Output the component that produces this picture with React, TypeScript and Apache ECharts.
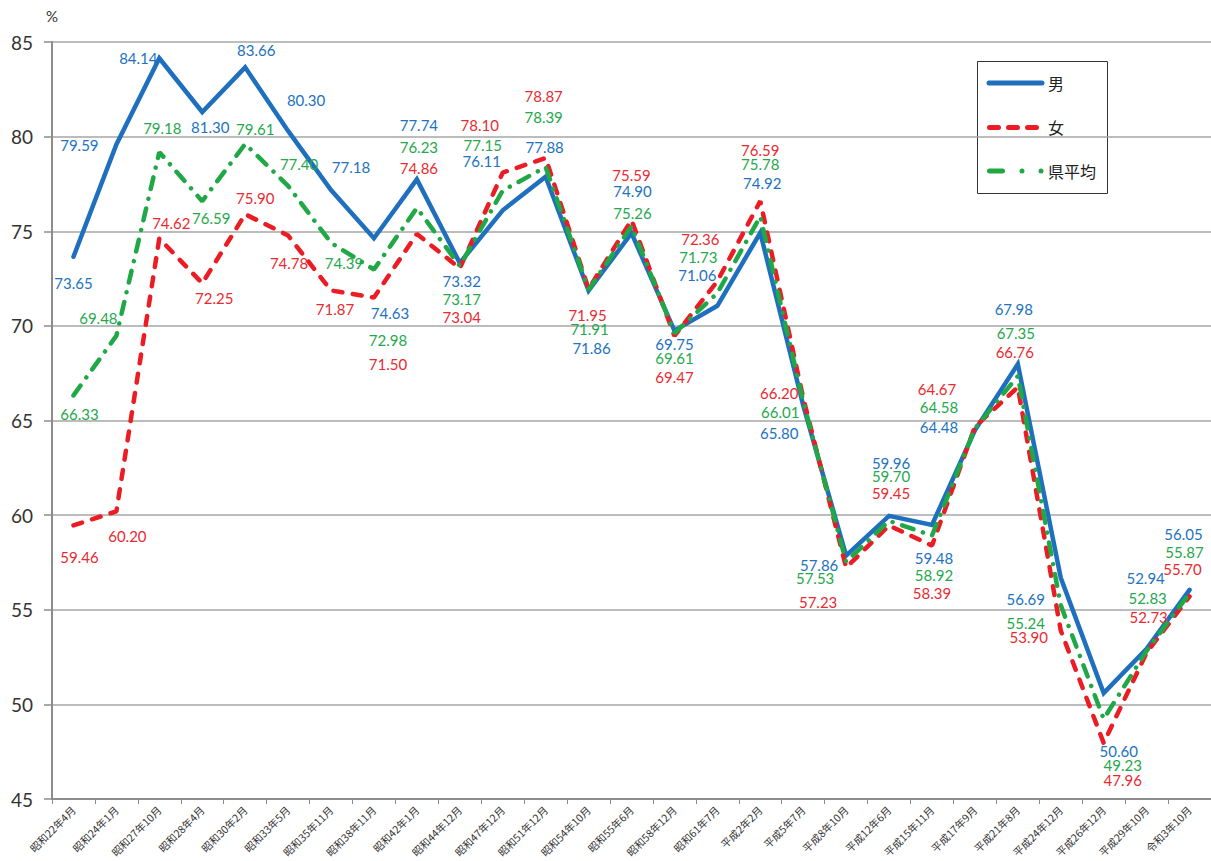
import React, { useEffect, useRef } from "react";
import * as echarts from "echarts";

const categories = [
  "昭和22年4月", "昭和24年1月", "昭和27年10月", "昭和28年4月", "昭和30年2月", "昭和33年5月",
  "昭和35年11月", "昭和38年11月", "昭和42年1月", "昭和44年12月", "昭和47年12月", "昭和51年12月",
  "昭和54年10月", "昭和55年6月", "昭和58年12月", "昭和61年7月", "平成2年2月", "平成5年7月",
  "平成8年10月", "平成12年6月", "平成15年11月", "平成17年9月", "平成21年8月", "平成24年12月",
  "平成26年12月", "平成29年10月", "令和3年10月",
];

const maleValues = [
  73.65, 79.59, 84.14, 81.3, 83.66, 80.3, 77.18, 74.63, 77.74, 73.32, 76.11, 77.88, 71.86, 74.9,
  69.75, 71.06, 74.92, 65.8, 57.86, 59.96, 59.48, 64.48, 67.98, 56.69, 50.6, 52.94, 56.05,
];
const femaleValues = [
  59.46, 60.2, 74.62, 72.25, 75.9, 74.78, 71.87, 71.5, 74.86, 73.04, 78.1, 78.87, 71.95, 75.59,
  69.47, 72.36, 76.59, 66.2, 57.23, 59.45, 58.39, 64.67, 66.76, 53.9, 47.96, 52.73, 55.7,
];
const averageValues = [
  66.33, 69.48, 79.18, 76.59, 79.61, 77.4, 74.39, 72.98, 76.23, 73.17, 77.15, 78.39, 71.91, 75.26,
  69.61, 71.73, 75.78, 66.01, 57.53, 59.7, 58.92, 64.58, 67.35, 55.24, 49.23, 52.83, 55.87,
];

const seriesNames = ["男", "女", "県平均"];
const yTicks = { min: 45, max: 85, interval: 5 };

// label offsets (pixels, from point) — layout only
const maleOffsets = [
  [0, 26], [-37, 1], [-21, 0], [8, 15], [11, -17], [18, -31], [20, -23], [16, 75], [2, -54],
  [2, 18], [-21, -49], [-1, -30], [3, 57], [1, -42], [0, 13], [-20, -31], [2, -50], [-24, 28],
  [-27, 9], [2, -53], [2, 33], [-36, -3], [-4, -55], [-35, 21], [15, 58], [-1, -71], [-6, -56],
];
const femaleOffsets = [
  [6, 32], [11, 25], [12, -15], [12, 15], [10, -16], [1, 28], [4, 19], [14, 67], [2, -66],
  [2, 49], [-23, -48], [-2, -62], [-1, 26], [0, -45], [0, 41], [-17, -42], [0, -51], [-24, -5],
  [-28, 34], [2, -33], [0, 47], [-38, -38], [-3, -35], [-32, 6], [19, 37], [2, -36], [-7, -28],
];
const averageOffsets = [
  [6, 19], [-18, -18], [3, -24], [9, 17], [10, -15], [11, -22], [13, 20], [14, 71], [2, -61],
  [2, 33], [-20, -46], [-2, -50], [1, 39], [1, -13], [0, 25], [-19, -36], [0, -52], [-23, 11],
  [-31, 16], [2, -45], [2, 39], [-36, -21], [-2, -43], [-35, 18], [19, 46], [1, -53], [-5, -41],
];

const BLUE = "#1f6fbf";
const RED = "#ec1c24";
const GREEN = "#21a846";
const LABEL_BLUE = "#2272bf";
const LABEL_RED = "#ea2a30";
const LABEL_GREEN = "#25a84b";

function buildData(values: number[], offsets: number[][]) {
  return values.map((v, i) => ({ value: v, label: { offset: offsets[i] } }));
}

export default function App() {
  const ref = useRef<HTMLDivElement>(null);

  useEffect(() => {
    if (!ref.current) return;
    const chart = echarts.init(ref.current, null, { renderer: "svg" });

    const labelBase = (color: string) => ({
      show: true,
      position: "inside",
      color,
      fontSize: 15,
      fontFamily: "Lato, 'Open Sans', sans-serif",
      formatter: (p: any) => Number(p.value).toFixed(2),
    });

    const mkSeries = (
      name: string,
      values: number[],
      offsets: number[][],
      color: string,
      labelColor: string,
      lineStyle: any,
      z: number
    ) => ({
      name,
      type: "line",
      data: buildData(values, offsets),
      symbol: "circle",
      symbolSize: 0,
      showSymbol: true,
      itemStyle: { color },
      lineStyle: { color, width: 4.5, ...lineStyle },
      label: labelBase(labelColor),
      emphasis: { disabled: true },
      z,
    });

    chart.setOption({
      animation: false,
      backgroundColor: "#ffffff",
      grid: { left: 52, right: -5, top: 42, bottom: 62 },
      xAxis: {
        type: "category",
        data: categories,
        boundaryGap: true,
        axisLine: { show: true, lineStyle: { color: "#8c8c8c", width: 2 } },
        axisTick: { show: true, length: 5, lineStyle: { color: "#8c8c8c", width: 1 } },
        axisLabel: {
          rotate: 45,
          interval: 0,
          margin: 9,
          fontSize: 10.5,
          color: "#333",
          fontFamily: "'Noto Sans CJK JP', sans-serif",
        },
        splitLine: { show: false },
      },
      yAxis: {
        type: "value",
        min: yTicks.min,
        max: yTicks.max,
        interval: yTicks.interval,
        name: "%",
        nameLocation: "end",
        nameGap: 19,
        nameTextStyle: { fontSize: 15, color: "#333", fontFamily: "Lato, sans-serif", align: "center" },
        axisLine: { show: true, lineStyle: { color: "#8c8c8c", width: 2 } },
        axisTick: { show: true, length: 8, lineStyle: { color: "#8c8c8c", width: 1.5 } },
        axisLabel: { fontSize: 19, color: "#333", margin: 19, fontFamily: "Lato, sans-serif" },
        splitLine: { show: true, lineStyle: { color: "#a6a6a6", width: 1.5 } },
      },
      series: [
        mkSeries(seriesNames[0], maleValues, maleOffsets, BLUE, LABEL_BLUE, { cap: "round", join: "miter" }, 2),
        mkSeries(seriesNames[1], femaleValues, femaleOffsets, RED, LABEL_RED, { type: [9, 10.5], cap: "round" }, 3),
        mkSeries(seriesNames[2], averageValues, averageOffsets, GREEN, LABEL_GREEN, { type: [12, 10, 0.01, 10], cap: "round" }, 4),
      ],
      graphic: [
        {
          type: "group",
          z: 100,
          children: [
            {
              type: "rect",
              shape: { x: 977.5, y: 61.5, width: 130, height: 132 },
              style: { fill: "#ffffff", stroke: "#333333", lineWidth: 1 },
            },
            {
              type: "line",
              shape: { x1: 989, y1: 83, x2: 1042, y2: 83 },
              style: { stroke: BLUE, lineWidth: 5, lineCap: "round" },
            },
            {
              type: "text",
              style: { text: seriesNames[0], x: 1048, y: 83, fontSize: 16, fill: "#222", verticalAlign: "middle", fontFamily: "'Noto Sans CJK JP', sans-serif" },
            },
            {
              type: "line",
              shape: { x1: 989.5, y1: 127.5, x2: 1039, y2: 127.5 },
              style: { stroke: RED, lineWidth: 5, lineCap: "round", lineDash: [9, 10] },
            },
            {
              type: "text",
              style: { text: seriesNames[1], x: 1048, y: 127, fontSize: 16, fill: "#222", verticalAlign: "middle", fontFamily: "'Noto Sans CJK JP', sans-serif" },
            },
            {
              type: "line",
              shape: { x1: 989.5, y1: 171, x2: 1042, y2: 171 },
              style: { stroke: GREEN, lineWidth: 5, lineCap: "round", lineDash: [13, 19.5, 0.01, 19, 0.01, 100] },
            },
            {
              type: "text",
              style: { text: seriesNames[2], x: 1048, y: 171, fontSize: 16, fill: "#222", verticalAlign: "middle", fontFamily: "'Noto Sans CJK JP', sans-serif" },
            },
          ],
        },
      ],
    });

    return () => chart.dispose();
  }, []);

  return (
    <div
      ref={ref}
      style={{ position: "fixed", left: 0, top: 0, width: 1211, height: 861, background: "#fff" }}
    />
  );
}
